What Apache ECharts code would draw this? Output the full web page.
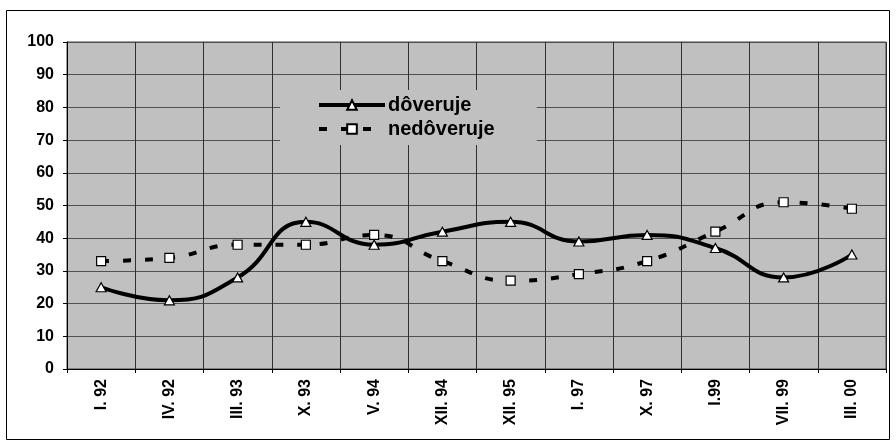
<!DOCTYPE html>
<html>
<head>
<meta charset="utf-8">
<script src="https://cdn.jsdelivr.net/npm/echarts@6/dist/echarts.min.js"></script>
<style>
html,body{margin:0;padding:0;background:#fff;}
#main{width:896px;height:444px;}
</style>
</head>
<body>
<div id="main"></div>
<script>
//obdobia
let categories = ['I. 92', 'IV. 92', 'III. 93', 'X. 93', 'V. 94', 'XII. 94', 'XII. 95', 'I. 97', 'X. 97', 'I.99', 'VII. 99', 'III. 00']
//dôveruje
let doveruje = [25, 21, 28, 45, 38, 42, 45, 39, 41, 37, 28, 35]
//nedôveruje
let nedoveruje = [33, 34, 38, 38, 41, 33, 27, 29, 33, 42, 51, 49]
//os y
let yMin = 0
let yMax = 100
let yStep = 10

let myChart = echarts.init(document.getElementById('main'))
let font = '"Liberation Sans", Arial, sans-serif'

let option = {
    animation: false,
    textStyle: {fontFamily: font},
    graphic: [
        {
            type: 'rect',
            shape: {x: 6.5, y: 10.5, width: 883, height: 429},
            style: {fill: 'none', stroke: '#000', lineWidth: 1},
            z: -1
        }
    ],
    grid: {
        left: 67,
        right: 10,
        top: 42,
        bottom: 75,
        show: true,
        backgroundColor: '#c0c0c0',
        borderColor: '#404040',
        borderWidth: 1
    },
    legend: {
        orient: 'vertical',
        left: 280,
        top: 90,
        padding: [5, 42, 6, 37],
        backgroundColor: '#c0c0c0',
        itemWidth: 66,
        itemHeight: 12,
        itemGap: 4,
        lineStyle: {width: 4},
        textStyle: {fontSize: 20, lineHeight: 20, fontWeight: 'bold', color: '#000', fontFamily: font, padding: [0, 0, 0, -2]},
        data: ['dôveruje', 'nedôveruje']
    },
    xAxis: {
        type: 'category',
        data: categories,
        boundaryGap: true,
        axisLine: {lineStyle: {color: '#000', width: 1}},
        axisTick: {show: true, length: 4, lineStyle: {color: '#000'}},
        splitLine: {show: true, lineStyle: {color: '#303030', width: 1}},
        axisLabel: {
            rotate: 90,
            margin: 10,
            color: '#000',
            fontSize: 16,
            fontWeight: 'bold',
            fontFamily: font
        }
    },
    yAxis: {
        type: 'value',
        min: yMin,
        max: yMax,
        interval: yStep,
        axisLine: {show: true, lineStyle: {color: '#000', width: 1}},
        axisTick: {show: true, length: 4, lineStyle: {color: '#000'}},
        splitLine: {show: true, lineStyle: {color: '#505050', width: 1}},
        axisLabel: {
            margin: 13,
            color: '#000',
            fontSize: 16,
            fontWeight: 'bold',
            fontFamily: font
        }
    },
    series: [
        {
            name: 'dôveruje',
            type: 'line',
            data: doveruje,
            smooth: 0.5,
            symbol: 'triangle',
            symbolSize: [10, 9],
            lineStyle: {color: '#000', width: 4},
            itemStyle: {color: '#fff', borderColor: '#000', borderWidth: 1.2},
            z: 3
        },
        {
            name: 'nedôveruje',
            type: 'line',
            data: nedoveruje,
            smooth: 0.5,
            symbol: 'rect',
            symbolSize: 9,
            lineStyle: {color: '#000', width: 4, type: [8, 14]},
            itemStyle: {color: '#fff', borderColor: '#000', borderWidth: 1.2},
            z: 2
        }
    ]
}
myChart.setOption(option)
</script>
</body>
</html>
